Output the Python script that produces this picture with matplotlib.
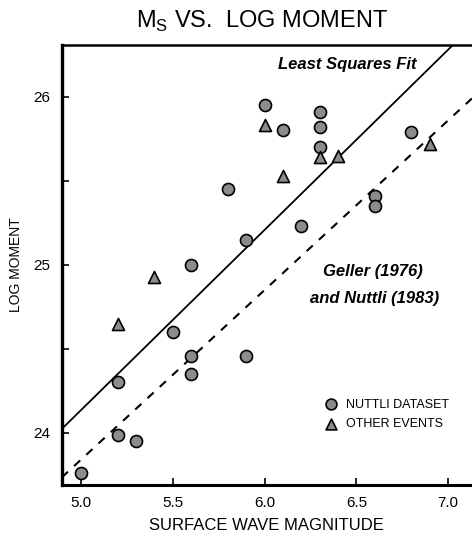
import matplotlib
matplotlib.use('Agg')
import matplotlib.pyplot as plt
import numpy as np

plt.rcParams['font.family'] = ['Liberation Sans', 'DejaVu Sans']

# Nuttli dataset (circles)
nuttliMs = [5.0, 5.2, 5.2, 5.3, 5.5, 5.6, 5.6, 5.6, 5.8, 5.9, 5.9, 6.0, 6.1, 6.2,
            6.3, 6.3, 6.3, 6.6, 6.6, 6.8]
nuttliMoment = [23.76, 24.30, 23.99, 23.95, 24.60, 25.00, 24.46, 24.35, 25.45, 25.15, 24.46,
                25.95, 25.80, 25.23, 25.91, 25.82, 25.70, 25.41, 25.35, 25.79]

# other events (triangles)
otherMs = [5.2, 5.4, 6.0, 6.1, 6.3, 6.4, 6.9]
otherMoment = [24.65, 24.93, 25.83, 25.53, 25.64, 25.65, 25.72]

# lines: [slope, intercept]
leastSquares = [1.073, 18.77]
gellerNuttli = [1.01, 18.79]

xLimits = [4.896, 7.13]
yLimits = [23.69, 26.31]

fig = plt.figure(figsize=(4.72, 5.40), dpi=100)
ax = fig.add_axes([0.131, 0.102, 0.869, 0.815])

lineX = np.array(xLimits)
ax.plot(lineX, leastSquares[0] * lineX + leastSquares[1], color='k', lw=1.3)
ax.plot(lineX, gellerNuttli[0] * lineX + gellerNuttli[1], color='k', lw=1.5,
        linestyle=(0, (4, 4)))

ax.scatter(nuttliMs, nuttliMoment, marker='o', s=75, facecolor='#8c8c8c',
           edgecolor='k', linewidth=1.2, zorder=3, label='NUTTLI DATASET')
ax.scatter(otherMs, otherMoment, marker='^', s=75, facecolor='#8c8c8c',
           edgecolor='k', linewidth=1.2, zorder=3, label='OTHER EVENTS')

ax.set_xlim(xLimits)
ax.set_ylim(yLimits)
ax.set_xticks([5.0, 5.5, 6.0, 6.5, 7.0])
ax.set_xticklabels(['5.0', '5.5', '6.0', '6.5', '7.0'])
ax.set_yticks([24, 25, 26])
ax.set_yticks([24.5, 25.5], minor=True)
ax.tick_params(direction='in', length=5, width=1.2, labelsize=11, pad=8)
ax.tick_params(which='minor', direction='in', length=5, width=1.2)

ax.spines['right'].set_visible(False)
ax.spines['left'].set_linewidth(2.4)
ax.spines['bottom'].set_linewidth(2.2)
ax.spines['top'].set_linewidth(1.8)

ax.set_xlabel('SURFACE WAVE MAGNITUDE', fontsize=12, labelpad=6)
ax.set_ylabel('LOG MOMENT', fontsize=10, labelpad=8)

ax.text(6.45, 26.19, 'Least Squares Fit', fontsize=12, fontweight='bold',
        fontstyle='italic', ha='center', va='center')
ax.text(6.59, 24.96, 'Geller (1976)', fontsize=12, fontweight='bold',
        fontstyle='italic', ha='center', va='center')
ax.text(6.6, 24.80, 'and Nuttli (1983)', fontsize=12, fontweight='bold',
        fontstyle='italic', ha='center', va='center')

ax.legend(loc='center left', bbox_to_anchor=(0.626, 0.16), frameon=False,
          fontsize=9, handletextpad=0.2, labelspacing=0.6, markerscale=0.9,
          borderpad=0, borderaxespad=0)

fig.text(0.555, 0.960, r'M$_\mathregular{S}$ VS.  LOG MOMENT', fontsize=17,
         ha='center', va='center')

fig.savefig('out.png', dpi=100)
